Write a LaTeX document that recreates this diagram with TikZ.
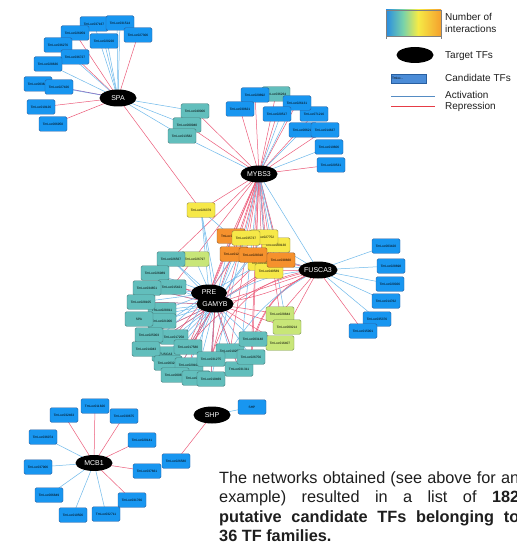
\documentclass[tikz,border=0pt]{standalone}
\usepackage{fontspec}
\setmainfont{Liberation Sans}
\usetikzlibrary{backgrounds,shapes.geometric}
\definecolor{cbF}{RGB}{24,150,240}
\definecolor{cbD}{RGB}{40,95,160}
\definecolor{tlF}{RGB}{98,190,188}
\definecolor{tlD}{RGB}{70,125,125}
\definecolor{ylF}{RGB}{246,232,72}
\definecolor{ylD}{RGB}{150,140,60}
\definecolor{orF}{RGB}{245,145,45}
\definecolor{orD}{RGB}{150,90,40}
\definecolor{grF}{RGB}{200,230,120}
\definecolor{grD}{RGB}{125,150,80}
\definecolor{actC}{RGB}{110,185,235}
\definecolor{repC}{RGB}{236,92,122}
\definecolor{mixC}{RGB}{140,110,190}
\definecolor{lgB}{RGB}{75,140,215}
\definecolor{lgA}{RGB}{85,140,195}
\definecolor{lgR}{RGB}{230,60,70}
\definecolor{txt}{RGB}{30,30,30}
\tikzset{
 box/.style={rectangle, rounded corners=1.5pt, minimum width=28pt, minimum height=14.5pt, inner sep=0pt, line width=0.4pt, font=\fontsize{3.2}{3.6}\selectfont},
 cb/.style={box, fill=cbF, draw=cbD},
 tl/.style={box, fill=tlF, draw=tlD},
 yl/.style={box, fill=ylF, draw=ylD},
 orn/.style={box, fill=orF, draw=orD},
 gr/.style={box, fill=grF, draw=grD},
 tf/.style={ellipse, fill=black, minimum width=37pt, minimum height=17pt, inner sep=0pt, text=white, font=\fontsize{7}{8}\selectfont},
 ac/.style={draw=actC, line width=0.5pt},
 rp/.style={draw=repC, line width=0.5pt},
 mx/.style={draw=mixC, line width=0.6pt},
 lgtext/.style={anchor=base west, inner sep=0pt, font=\fontsize{10}{12}\selectfont, text=txt},
}
\begin{document}
\begin{tikzpicture}[x=1pt,y=-1pt]
\useasboundingbox (0,0) rectangle (516,545);

% ---------- SPA group ----------
\node[cb] (s1) at (94,24) {TmLoc037167};
\node[cb] (s2) at (120,23) {TmLoc031514};
\node[cb] (s3) at (75,33) {TmLoc026959};
\node[cb] (s4) at (138,35) {TmLoc027306};
\node[cb] (s5) at (104,41) {TmLoc020220};
\node[cb] (s6) at (58,45) {TmLoc036276};
\node[cb] (s7) at (75,57) {TmLoc036727};
\node[cb] (s8) at (48,64) {TmLoc028636};
\node[cb] (s9) at (38,84) {TmLoc003620};
\node[cb] (s10) at (59,87) {TmLoc027426};
\node[cb] (s11) at (41,107) {TmLoc019126};
\node[cb] (s12) at (53,124) {TmLoc006950};
\node[tf] (SPA) at (118,98) {SPA};

% ---------- teal near MYBS3 ----------
\node[tl] (t1) at (195,111) {TmLoc040006};
\node[tl] (t2) at (187,125) {TmLoc000940};
\node[tl] (t3) at (182,136) {TmLoc013582};

% ---------- MYBS3 group ----------
\node[tl] (m3) at (276,94) {TmLoc036264};
\node[cb] (m2) at (255,95) {TmLoc029892};
\node[cb] (m1) at (240,109) {TmLoc030621};
\node[cb] (m6) at (314,114) {TmLoc071216};
\node[cb] (m4) at (297,103) {TmLoc026131};
\node[cb] (m5) at (277,114) {TmLoc020517};
\node[cb] (m7) at (303,130) {TmLoc006210};
\node[cb] (m8) at (325,130) {TmLoc014637};
\node[cb] (m9) at (329,147) {TmLoc019606};
\node[cb] (m10) at (331,165) {TmLoc020531};
\node[tf] (MYB) at (259,174) {MYBS3};

% ---------- central coloured ----------
\node[yl] (y1) at (201,210) {TmLoc026379};
\node[orn] (o1) at (231,236) {TmLoc021110};
\node[yl] (y4) at (276,245) {TmLoc009130};
\node[yl] (y3) at (264,237) {TmLoc027752};
\node[yl] (y2) at (246,238) {TmLoc035737};
\node[yl] (y5) at (262,263) {TmLoc018440};
\node[yl] (y6) at (269,271) {TmLoc040589};
\node[orn] (o2) at (234,254) {TmLoc012215};
\node[orn] (o3) at (253,255) {TmLoc028318};
\node[orn] (o4) at (281,260) {TmLoc038660};

% ---------- FUSCA3 group ----------
\node[cb] (f1) at (386,246) {TmLoc003420};
\node[cb] (f2) at (391,266) {TmLoc028698};
\node[cb] (f3) at (390,284) {TmLoc020026};
\node[cb] (f4) at (386,301) {TmLoc014762};
\node[cb] (f5) at (377,319) {TmLoc035376};
\node[cb] (f6) at (363,331) {TmLoc015001};
\node[tf] (FUS) at (318,270) {FUSCA3};

% ---------- green ----------
\node[gr] (g1) at (280,314) {TmLoc028844};
\node[gr] (g2) at (287,327) {TmLoc009214};
\node[gr] (g3) at (280,343) {TmLoc016407};
\node[gr] (g0) at (195,259) {TmLoc026797};

% ---------- GAMYB teal cluster ----------
\node[tl] (a1) at (171,259) {TmLoc026567};
\node[tl] (a2) at (155,273) {TmLoc026989};
\node[tl] (a3) at (172,287) {TmLoc015421};
\node[tl] (a4) at (147,288) {TmLoc034651};
\node[tl] (a5) at (162,310) {TmLoc028811};
\node[tl] (a6) at (141,302) {TmLoc028105};
\node[tl] (a7) at (162,321) {TmLoc021006};
\node[tl] (a8) at (139,319) {SPA};
\node[tl] (a9) at (174,337) {TmLoc017258};
\node[tl] (a10) at (149,335) {TmLoc025003};
\node[tl] (a11) at (166,354) {FUSCA3};
\node[tl] (a12) at (146,349) {TmLoc014043};
\node[tl] (a13) at (188,347) {TmLoc017580};
\node[tl] (a20) at (230,351) {TmLoc010258};
\node[tl] (a21) at (253,339) {TmLoc003148};
\node[tl] (a14) at (168,363) {TmLoc003217};
\node[tl] (a17) at (189,365) {TmLoc029102};
\node[tl] (a15) at (175,375) {TmLoc000874};
\node[tl] (a16) at (196,378) {TmLoc030441};
\node[tl] (a23) at (239,369) {TmLoc031311};
\node[tl] (a22) at (251,357) {TmLoc026756};
\node[tl] (a18) at (211,359) {TmLoc031275};
\node[tl] (a19) at (211,379) {TmLoc010469};
\node[tf, minimum width=36pt] (PRE) at (209,293) {\raisebox{2pt}{PRE}};
\node[tf, minimum width=37pt] (GAM) at (215,304) {GAMYB};

% ---------- MCB1 group ----------
\node[cb] (c1) at (95,406) {TmLoc011826};
\node[cb] (c2) at (64,415) {TmLoc032463};
\node[cb] (c3) at (124,416) {TmLoc030675};
\node[cb] (c4) at (43,437) {TmLoc036074};
\node[cb] (c5) at (142,440) {TmLoc020141};
\node[cb] (c6) at (38,467) {TmLoc037906};
\node[cb] (c7) at (147,471) {TmLoc037661};
\node[cb] (c8) at (176,461) {TmLoc026580};
\node[cb] (c9) at (49,495) {TmLoc006849};
\node[cb] (c10) at (132,500) {TmLoc031766};
\node[cb] (c11) at (73,515) {TmLoc010506};
\node[cb] (c12) at (106,514) {TmLoc032711};
\node[tf, minimum height=16pt] (MCB) at (94,463) {MCB1};

% ---------- SHP ----------
\node[tf] (SHP) at (212,415) {SHP};
\node[cb] (shpc) at (252,407) {SHP};

% ---------- edges ----------
\begin{pgfonlayer}{background}
\fill[white] (0,0) rectangle (516,545);
\foreach \n in {s3,s7,s4,s11,s12,y1} \draw[rp] (SPA.center)--(\n.center);
\foreach \n in {s1,s2,s5,s6,s8,s9,t1,t2,t3} \draw[ac] (SPA.center)--(\n.center);
\draw[ac] (SPA.center)--([xshift=3pt]s5.center);
\draw[ac] (SPA.center)--([xshift=-3pt]s2.center);
\draw[mx] (SPA.center)--(s10.center);

\foreach \n in {m1,m2,m3,m4,m5,m6,m8,m10,t1,t2} \draw[rp] (MYB.center)--(\n.center);
\foreach \n in {m7,m9,t3} \draw[ac] (MYB.center)--(\n.center);
\draw[ac] (MYB.center)--([xshift=4pt]m5.center);
\draw[ac] (MYB.center)--([xshift=-3pt]m4.center);
\foreach \n in {o1,y2,y3,y4,o2,o3,o4,y5,y6,GAM,PRE,a1,a3,a13,a18,a20,a21,a22,g1,y1}
  \draw[rp] (MYB.center)--(\n.center);
\foreach \n in {y4,y3,a23,a19,g2,FUS}
  \draw[ac] (MYB.center)--(\n.center);

\draw[ac] (y1.center)--(o1.center);
\draw[ac] (y1.center)--(PRE.center);
\draw[ac] (y1.center)--([xshift=4pt]GAM.center);

\foreach \n in {a1,a2,a3,a4,a5,a6,a7,a8,a9,a10,a11,a12,a13,a14,a15,a16,a17,a18,a19,a20,a21,a22,a23,o1,y2,y3,o2,o3,g0,y1}
  \draw[ac] (GAM.center)--(\n.center);
\foreach \n in {a2,a4,a6,a10,a12,a13,a15,a18,a19,a23,g1,g2,g3,y4,o4,y6,FUS}
  \draw[rp] (GAM.center)--(\n.center);
\foreach \n in {a1,a2,a4,a6,a8,a10,a12,a14,a16,o2,y5}
  \draw[ac] (PRE.center)--(\n.center);
\foreach \n in {a3,a9,a17,o1,y2}
  \draw[rp] (PRE.center)--(\n.center);
\draw[ac] (GAM.center) to[bend left=15] (FUS.center);
\draw[rp] (GAM.center) to[bend right=10] (FUS.center);

\foreach \n in {f1,f2,f3,f4,f5} \draw[ac] (FUS.center)--(\n.center);
\draw[rp] (FUS.center)--(f6.center);
\foreach \n in {g1,g2,o4,y6,o3} \draw[rp] (FUS.center)--(\n.center);
\foreach \n in {y4,o4,y5} \draw[ac] (FUS.center)--(\n.center);
\draw[rp] (FUS.center) to[bend right=25] (a21.center);
\draw[rp] (FUS.center) to[bend right=30] (a22.center);
\draw[rp] (FUS.center) to[bend right=20] (a13.center);
\draw[ac] (FUS.center) to[bend right=15] (a20.center);
\draw[rp] (FUS.center) to[bend right=35] (a18.center);

\foreach \n in {c1,c2,c3,c5,c7,c10} \draw[rp] (MCB.center)--(\n.center);
\foreach \n in {c4,c6,c9,c11,c12} \draw[ac] (MCB.center)--(\n.center);
\draw[ac] (SHP.center)--(shpc.center);
\draw[rp] (SHP.center)--(c8.center);
\end{pgfonlayer}

% ---------- legend ----------
\shade[left color={rgb,255:red,40;green,140;blue,225}, right color={rgb,255:red,120;green,210;blue,170}] (386,10) rectangle (403,36);
\shade[left color={rgb,255:red,120;green,210;blue,170}, right color={rgb,255:red,245;green,235;blue,70}] (403,10) rectangle (418,36);
\shade[left color={rgb,255:red,245;green,235;blue,70}, right color={rgb,255:red,245;green,160;blue,45}] (418,10) rectangle (441,36);
\draw[gray, line width=0.4pt] (386,10) rectangle (441,36);
\draw[gray, line width=0.4pt] (386,36)--(386,39) (441,36)--(441,39);
\node[lgtext] (l1) at (445,21) {Number of};
\node[lgtext] (l2) at (445,33) {interactions};
\node[tf, minimum height=16pt] (lgE) at (415,55) {};
\node[lgtext] (l3) at (445,59) {Target TFs};
\node[rectangle, fill=lgB, draw=cbD, line width=0.3pt, minimum width=35pt, minimum height=9pt, inner sep=0pt, text width=33pt, align=left, font=\fontsize{3.2}{3.6}\selectfont] (lgC) at (408.5,78.5) {Tmloc...};
\node[lgtext] (l4) at (445,82) {Candidate TFs};
\coordinate (la1) at (391,97); \coordinate (la2) at (435,97);
\coordinate (lr1) at (391,107); \coordinate (lr2) at (435,107);
\draw[draw=lgA, line width=1pt] (la1)--(la2);
\draw[draw=lgR, line width=1pt] (lr1)--(lr2);
\node[lgtext] (l5) at (445,99) {Activation};
\node[lgtext] (l6) at (445,110) {Repression};

% ---------- paragraph ----------
\node[anchor=north west, inner sep=0pt, text width=300pt, align=justify, text=txt, font=\fontsize{16.3}{19.5}\selectfont] (para) at (219,471)
 {The networks obtained (see above for an\linebreak example) resulted in a list of \textbf{182}\linebreak \textbf{putative candidate TFs belonging to}\linebreak \textbf{36 TF families.}};
\end{tikzpicture}
\end{document}
